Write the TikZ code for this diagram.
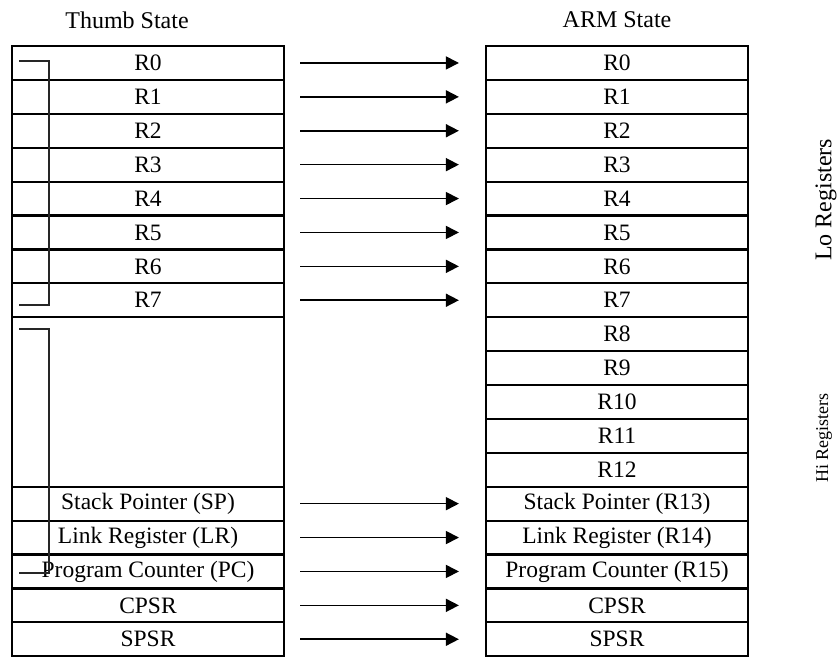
\documentclass[tikz,border=0pt]{standalone}
\usepackage{fontspec}
\setmainfont{Liberation Serif}
\usetikzlibrary{arrows.meta, positioning}

\begin{document}
\begin{tikzpicture}[
    x=1pt, y=-1pt,
    font=\fontsize{23.5}{26}\selectfont,
    regrow/.style={rectangle, draw, line width=2.2pt, minimum height=33.9pt, inner sep=0pt},
    thumbrow/.style={regrow, minimum width=272pt},
    armrow/.style={regrow, minimum width=262pt},
    arrow/.style={-{Triangle[length=13pt, width=13pt]}, line width=1.6pt, shorten <=15pt, shorten >=26pt},
    bracket/.style={line width=1.5pt, black!85}
]
\useasboundingbox (0,0) rectangle (840,656);

% titles
\node[font=\fontsize{24}{26}\selectfont] (thumbtitle) at (127, 20) {Thumb State};
\node[font=\fontsize{24}{26}\selectfont] (armtitle) at (617, 20) {ARM State};

% thumb state registers
\foreach \lbl [count=\i from 0] in {R0,R1,R2,R3,R4,R5,R6,R7}
    \node[thumbrow] (t\i) at (148, {62.95+33.9*\i}) {\lbl};
\node[thumbrow, minimum height=169.5pt] (tgap) at (148, {46+33.9*10.5}) {};
\foreach \lbl [count=\i from 13] in {Stack Pointer (SP),Link Register (LR),Program Counter (PC),CPSR,SPSR}
    \node[thumbrow] (t\i) at (148, {62.95+33.9*\i}) {\lbl};

% arm state registers
\foreach \lbl [count=\i from 0] in {R0,R1,R2,R3,R4,R5,R6,R7,R8,R9,R10,R11,R12,Stack Pointer (R13),Link Register (R14),Program Counter (R15),CPSR,SPSR}
    \node[armrow] (a\i) at (617, {62.95+33.9*\i}) {\lbl};

% mapping
\foreach \i in {0,...,7,13,14,15,16,17}
    \draw[arrow] (t\i.east) -- (a\i.west);

% lo / hi brackets
\draw[bracket] (19,61) -| (49,305) -- (19,305);
\draw[bracket] (19,329) -| (49,573) -- (19,573);

\node[rotate=90, font=\fontsize{24}{26}\selectfont] (lolabel) at (826, 200) {Lo Registers};
\node[rotate=90, font=\fontsize{18}{20}\selectfont] (hilabel) at (824, 438) {Hi Registers};
\end{tikzpicture}
\end{document}
